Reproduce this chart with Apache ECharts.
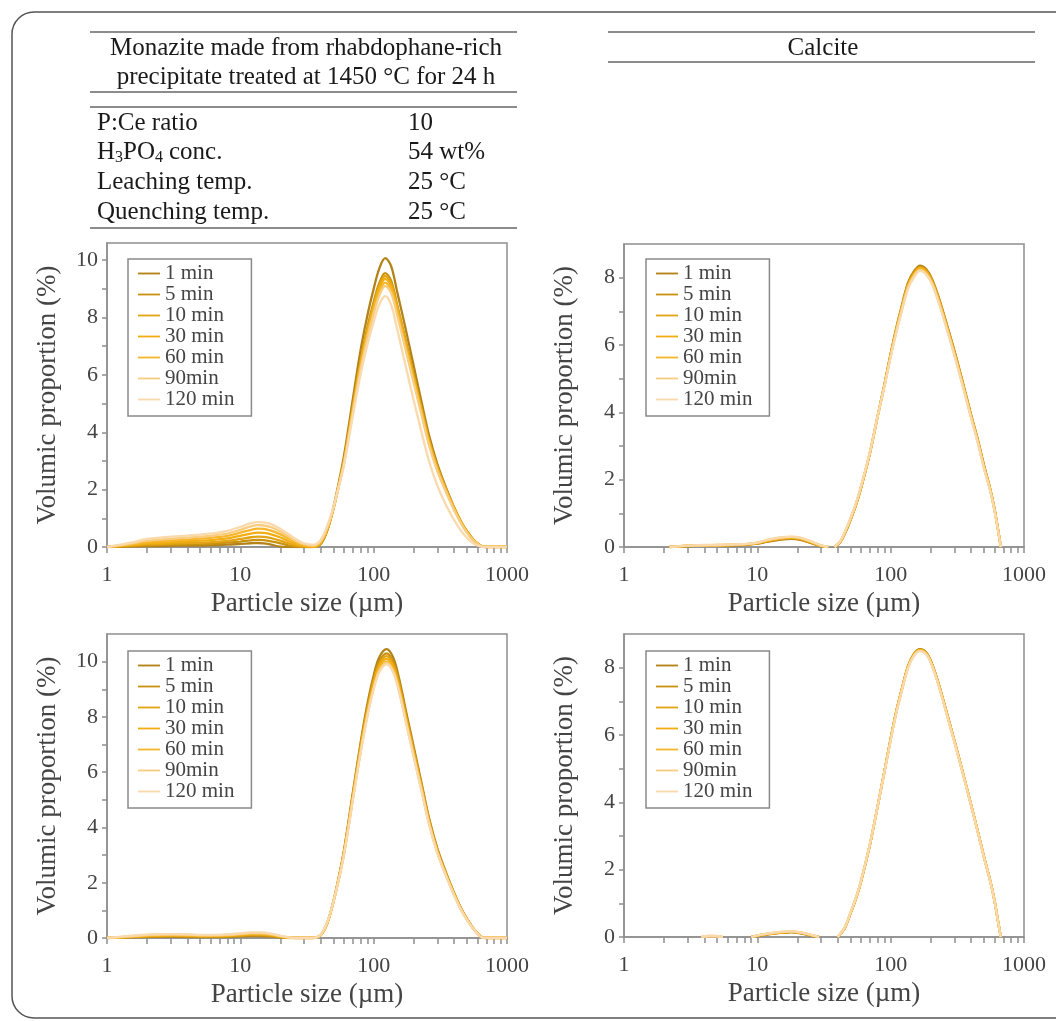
<!DOCTYPE html>
<html><head><meta charset="utf-8">
<script src="https://cdn.jsdelivr.net/npm/echarts@6/dist/echarts.min.js"></script>
<style>html,body{margin:0;padding:0;background:#fff}#c{width:1056px;height:1021px}</style>
</head><body><div id="c"></div>
<script>
// ---------- legend / series ----------
const seriesNames = ['1 min', '5 min', '10 min', '30 min', '60 min', '90min', '120 min'];
const seriesColors = ['#b3831a', '#c9930f', '#e3a515', '#f2ae12', '#f6b72e', '#f8cd80', '#fad9ac'];

// ---------- tick labels ----------
const xLabelValues = [1, 10, 100, 1000];
const xTickValues = [1,2,3,4,5,6,7,8,9,10,20,30,40,50,60,70,80,90,100,200,300,400,500,600,700,800,900,1000];
const yLabelsMonazite = [0, 2, 4, 6, 8, 10];
const yTicksMonazite = [0,1,2,3,4,5,6,7,8,9,10];
const yLabelsCalcite = [0, 2, 4, 6, 8];
const yTicksCalcite = [0,1,2,3,4,5,6,7,8];

// ---------- top-left: monazite (upper row) ----------
const sizesTL = [1,1.5,2,3,4,5,6,7,8,10,12,13.5,15,17,20,23,26,30,35,40,45,50,55,60,70,80,90,100,110,122,135,150,170,200,230,260,300,350,400,450,500,560,630,680,1000];
const TL_1min  = [0,0.02,0.03,0.04,0.05,0.05,0.06,0.07,0.08,0.11,0.13,0.14,0.13,0.08,0.01,0,0,0,0, 0.1,0.6,1.4,2.3,3.2,5.2,6.9,8.1,9.0,9.7,10.07,9.8,8.9,7.8,6.3,5.0,3.9,2.9,2.05,1.4,0.9,0.55,0.25,0.05,0,0];
const TL_5min  = [0,0.03,0.06,0.08,0.09,0.1,0.11,0.13,0.15,0.19,0.23,0.25,0.24,0.2,0.13,0.06,0.02,0,0, 0.1,0.6,1.35,2.2,3.05,4.95,6.55,7.7,8.55,9.2,9.55,9.3,8.45,7.4,6.0,4.8,3.75,2.8,2.0,1.38,0.9,0.55,0.25,0.05,0,0];
const TL_10min = [0,0.05,0.09,0.12,0.14,0.15,0.17,0.19,0.21,0.28,0.34,0.36,0.35,0.31,0.22,0.13,0.06,0.02,0, 0.12,0.62,1.35,2.2,3.0,4.9,6.5,7.6,8.45,9.1,9.45,9.2,8.4,7.35,5.95,4.75,3.72,2.78,2.0,1.38,0.9,0.55,0.25,0.05,0,0];
const TL_30min = [0,0.07,0.13,0.17,0.2,0.22,0.24,0.27,0.3,0.39,0.47,0.5,0.49,0.44,0.33,0.21,0.11,0.04,0.01, 0.15,0.65,1.35,2.2,3.0,4.85,6.4,7.5,8.35,9.0,9.35,9.1,8.3,7.25,5.88,4.7,3.68,2.75,1.97,1.36,0.88,0.53,0.24,0.05,0,0];
const TL_60min = [0,0.09,0.17,0.23,0.26,0.29,0.32,0.35,0.39,0.5,0.6,0.64,0.63,0.57,0.44,0.3,0.17,0.07,0.03, 0.18,0.68,1.35,2.15,2.95,4.8,6.3,7.4,8.25,8.88,9.22,8.98,8.2,7.15,5.8,4.62,3.6,2.7,1.93,1.33,0.86,0.52,0.23,0.05,0,0];
const TL_90min = [0,0.12,0.22,0.29,0.33,0.36,0.39,0.43,0.47,0.6,0.72,0.76,0.75,0.69,0.54,0.37,0.22,0.1,0.05, 0.2,0.7,1.38,2.15,2.92,4.72,6.22,7.3,8.13,8.76,9.1,8.86,8.08,7.05,5.7,4.55,3.55,2.65,1.9,1.3,0.84,0.5,0.22,0.04,0,0];
const TL_120min= [0,0.15,0.28,0.36,0.40,0.43,0.47,0.51,0.56,0.70,0.83,0.87,0.86,0.80,0.63,0.45,0.28,0.13,0.08, 0.25,0.75,1.4,2.15,2.88,4.6,6.05,7.08,7.85,8.45,8.75,8.45,7.6,6.5,5.1,3.95,3.0,2.15,1.45,0.95,0.58,0.32,0.12,0.02,0,0];

// ---------- top-right: calcite (upper row) ----------
const sizesTR = [2.2,3,4,5,6,8,10,12,15,18,21,25,30,34,36,38,42,46,50,55,60,70,80,90,100,110,120,135,150,166,185,205,230,260,300,350,400,450,500,560,600,640,670];
const TR_1min  = [0,0.03,0.04,0.04,0.05,0.06,0.1,0.16,0.22,0.24,0.21,0.12,0.02,0,null, 0,0.15,0.45,0.8,1.25,1.75,2.8,3.9,4.85,5.75,6.5,7.1,7.85,8.2,8.36,8.25,7.95,7.4,6.7,5.85,4.85,3.95,3.2,2.45,1.7,1.15,0.5,0];
const TR_5min  = [0,0.03,0.04,0.05,0.05,0.07,0.11,0.17,0.24,0.26,0.23,0.13,0.03,0,null, 0,0.16,0.46,0.81,1.26,1.76,2.8,3.9,4.84,5.73,6.47,7.07,7.82,8.17,8.33,8.22,7.92,7.37,6.67,5.82,4.82,3.93,3.18,2.43,1.69,1.14,0.5,0];
const TR_10min = [0,0.03,0.05,0.05,0.06,0.07,0.11,0.18,0.25,0.27,0.24,0.14,0.03,0,null, 0,0.16,0.47,0.82,1.27,1.77,2.81,3.9,4.83,5.72,6.45,7.05,7.79,8.14,8.3,8.19,7.89,7.34,6.64,5.79,4.8,3.91,3.16,2.41,1.68,1.13,0.49,0];
const TR_30min = [0,0.04,0.05,0.05,0.06,0.08,0.12,0.19,0.26,0.28,0.25,0.15,0.04,0,null, 0,0.17,0.48,0.83,1.28,1.78,2.82,3.9,4.82,5.7,6.43,7.02,7.76,8.11,8.28,8.17,7.87,7.32,6.62,5.77,4.78,3.9,3.15,2.4,1.67,1.12,0.49,0];
const TR_60min = [0,0.04,0.05,0.06,0.06,0.08,0.12,0.2,0.27,0.29,0.26,0.16,0.04,0,null, 0,0.17,0.49,0.84,1.29,1.79,2.82,3.9,4.81,5.68,6.4,7.0,7.73,8.08,8.25,8.14,7.84,7.29,6.6,5.75,4.76,3.88,3.13,2.38,1.66,1.11,0.48,0];
const TR_90min = [0,0.04,0.05,0.06,0.07,0.08,0.13,0.21,0.28,0.3,0.27,0.17,0.05,0,null, 0,0.18,0.5,0.85,1.3,1.8,2.83,3.9,4.8,5.66,6.38,6.97,7.7,8.05,8.22,8.11,7.81,7.26,6.57,5.72,4.74,3.86,3.11,2.36,1.65,1.1,0.48,0];
const TR_120min= [0,0.04,0.06,0.06,0.07,0.09,0.13,0.22,0.29,0.31,0.28,0.18,0.05,0,null, 0,0.18,0.51,0.86,1.31,1.81,2.84,3.9,4.79,5.64,6.35,6.94,7.67,8.02,8.2,8.09,7.79,7.24,6.55,5.7,4.72,3.84,3.1,2.35,1.64,1.09,0.47,0];

// ---------- bottom-left: monazite (lower row) ----------
const sizesBL = [1,1.3,1.7,2.2,3,4,5,6,8,10,12,14,17,20,23,26,30,35,40,45,50,55,60,70,80,90,100,110,125,140,155,175,200,230,260,300,350,400,450,500,560,630,680,1000];
const BL_1min  = [0,0.01,0.03,0.04,0.05,0.04,0.03,0.03,0.04,0.06,0.07,0.07,0.05,0.02,0,0,0,0, 0.1,0.55,1.35,2.25,3.2,5.3,7.1,8.5,9.5,10.15,10.45,10.15,9.4,8.2,6.9,5.55,4.35,3.25,2.35,1.65,1.1,0.7,0.35,0.07,0,0];
const BL_5min  = [0,0.02,0.04,0.06,0.07,0.06,0.05,0.05,0.06,0.08,0.1,0.1,0.07,0.03,0.01,0,0,0, 0.1,0.55,1.33,2.22,3.15,5.23,7.0,8.38,9.37,10.0,10.3,10.0,9.27,8.08,6.8,5.47,4.29,3.2,2.32,1.63,1.08,0.69,0.34,0.07,0,0];
const BL_10min = [0,0.02,0.05,0.07,0.08,0.07,0.06,0.06,0.07,0.1,0.12,0.12,0.09,0.04,0.01,0,0,0, 0.1,0.56,1.33,2.2,3.12,5.17,6.93,8.3,9.27,9.9,10.2,9.9,9.17,8.0,6.73,5.42,4.25,3.17,2.29,1.61,1.07,0.68,0.34,0.07,0,0];
const BL_30min = [0,0.03,0.06,0.09,0.1,0.09,0.08,0.08,0.09,0.12,0.14,0.14,0.11,0.05,0.01,0,0,0, 0.11,0.57,1.33,2.19,3.1,5.12,6.86,8.22,9.18,9.81,10.1,9.81,9.09,7.93,6.67,5.37,4.2,3.14,2.27,1.6,1.06,0.68,0.34,0.07,0,0];
const BL_60min = [0,0.03,0.07,0.1,0.11,0.1,0.09,0.09,0.1,0.13,0.16,0.16,0.12,0.06,0.02,0,0,0, 0.11,0.58,1.33,2.17,3.07,5.07,6.79,8.13,9.09,9.71,10.0,9.71,9.0,7.85,6.6,5.31,4.16,3.11,2.25,1.58,1.05,0.67,0.33,0.06,0,0];
const BL_90min = [0,0.04,0.08,0.12,0.13,0.12,0.1,0.1,0.12,0.15,0.18,0.18,0.14,0.07,0.02,0,0,0, 0.12,0.58,1.33,2.16,3.05,5.05,6.76,8.09,9.04,9.66,9.95,9.66,8.95,7.81,6.57,5.28,4.14,3.09,2.24,1.57,1.05,0.67,0.33,0.06,0,0];
const BL_120min= [0,0.05,0.1,0.13,0.14,0.13,0.11,0.11,0.13,0.17,0.2,0.2,0.16,0.08,0.02,0,0,0, 0.12,0.59,1.34,2.15,3.03,5.02,6.72,8.05,9.0,9.61,9.9,9.61,8.9,7.77,6.53,5.26,4.12,3.08,2.23,1.56,1.04,0.66,0.33,0.06,0,0];

// ---------- bottom-right: calcite (lower row) ----------
const sizesBR = [3.8,4.3,4.8,5.5,7,9,10,12,15,18,21,25,29,35,40,45,50,55,60,70,80,90,100,110,120,135,150,166,185,205,230,260,300,350,400,450,500,560,600,640,670];
const BR_1min  = [null,null,null,null,null, 0,0.03,0.08,0.12,0.14,0.11,0.05,0,null, 0,0.25,0.7,1.15,1.65,2.75,3.9,4.95,5.9,6.7,7.3,8.05,8.42,8.55,8.45,8.1,7.5,6.75,5.85,4.85,3.95,3.15,2.4,1.65,1.1,0.45,0];
const BR_5min  = [null,null,null,null,null, 0,0.03,0.08,0.13,0.15,0.12,0.05,0,null, 0,0.25,0.7,1.15,1.65,2.75,3.9,4.94,5.89,6.69,7.29,8.04,8.41,8.54,8.44,8.09,7.49,6.74,5.84,4.84,3.94,3.14,2.4,1.65,1.1,0.45,0];
const BR_10min = [null,null,null,null,null, 0,0.04,0.09,0.13,0.15,0.12,0.06,0,null, 0,0.26,0.71,1.16,1.66,2.76,3.9,4.94,5.88,6.68,7.28,8.03,8.4,8.53,8.43,8.08,7.48,6.73,5.83,4.84,3.94,3.14,2.39,1.64,1.09,0.45,0];
const BR_30min = [null,null,null,null,null, 0,0.04,0.09,0.14,0.16,0.13,0.06,0,null, 0,0.26,0.71,1.16,1.66,2.76,3.9,4.93,5.87,6.67,7.27,8.02,8.39,8.52,8.42,8.07,7.47,6.72,5.82,4.83,3.93,3.13,2.39,1.64,1.09,0.44,0];
const BR_60min = [0,0.02,0.02,0, null, 0,0.04,0.09,0.14,0.16,0.13,0.06,0,null, 0,0.26,0.72,1.17,1.67,2.77,3.9,4.93,5.86,6.66,7.26,8.01,8.38,8.51,8.41,8.06,7.46,6.71,5.82,4.82,3.93,3.13,2.38,1.63,1.08,0.44,0];
const BR_90min = [0,0.03,0.03,0, null, 0,0.05,0.1,0.15,0.17,0.14,0.07,0,null, 0,0.27,0.72,1.17,1.67,2.77,3.9,4.92,5.85,6.65,7.25,8.0,8.37,8.5,8.4,8.05,7.45,6.7,5.81,4.82,3.92,3.12,2.38,1.63,1.08,0.44,0];
const BR_120min= [0,0.03,0.03,0, null, 0,0.05,0.1,0.15,0.17,0.14,0.07,0,null, 0,0.27,0.73,1.18,1.68,2.78,3.9,4.92,5.84,6.64,7.24,7.99,8.36,8.49,8.39,8.04,7.44,6.69,5.8,4.81,3.92,3.12,2.37,1.63,1.08,0.44,0];

// ---------- build ----------
const FONT = '"Liberation Serif", "Times New Roman", serif';
const AX = '#8e8e8e';
const TXT = '#444';

function pairs(sizes, vals) {
  return sizes.map((s, i) => [s, vals[i] === null ? '-' : vals[i]]);
}

const panels = [
  { sizes: sizesTL, sets: [TL_1min, TL_5min, TL_10min, TL_30min, TL_60min, TL_90min, TL_120min], grid: {left: 107, top: 243, width: 400, height: 304}, yMax: 10.6, yLabels: yLabelsMonazite, yTicks: yTicksMonazite, legend: {left: 128, top: 259} },
  { sizes: sizesTR, sets: [TR_1min, TR_5min, TR_10min, TR_30min, TR_60min, TR_90min, TR_120min], grid: {left: 624, top: 244, width: 400, height: 303}, yMax: 9, yLabels: yLabelsCalcite, yTicks: yTicksCalcite, legend: {left: 646, top: 259} },
  { sizes: sizesBL, sets: [BL_1min, BL_5min, BL_10min, BL_30min, BL_60min, BL_90min, BL_120min], grid: {left: 107, top: 634, width: 400, height: 304}, yMax: 11, yLabels: yLabelsMonazite, yTicks: yTicksMonazite, legend: {left: 128, top: 651} },
  { sizes: sizesBR, sets: [BR_1min, BR_5min, BR_10min, BR_30min, BR_60min, BR_90min, BR_120min], grid: {left: 624, top: 634, width: 400, height: 303}, yMax: 9, yLabels: yLabelsCalcite, yTicks: yTicksCalcite, legend: {left: 646, top: 651} }
];

const grids = [], xAxes = [], yAxes = [], series = [], legends = [];
panels.forEach((p, k) => {
  grids.push(Object.assign({ show: true, borderColor: AX, borderWidth: 1.5, backgroundColor: 'transparent' }, p.grid));
  xAxes.push({
    type: 'log', logBase: 10, gridIndex: k, min: 1, max: 1000,
    axisLine: { show: true, lineStyle: { color: AX, width: 1.5 } },
    axisTick: { show: true, inside: false, length: 6, lineStyle: { color: AX, width: 1.5 }, customValues: xTickValues },
    axisLabel: { customValues: xLabelValues, formatter: v => String(v), margin: 17, fontFamily: FONT, fontSize: 22, color: TXT },
    splitLine: { show: false }, minorTick: { show: false },
    name: 'Particle size (µm)', nameLocation: 'middle', nameGap: 43,
    nameTextStyle: { fontFamily: FONT, fontSize: 27, color: TXT }
  });
  yAxes.push({
    type: 'value', gridIndex: k, min: 0, max: p.yMax, interval: 2,
    axisLine: { show: true, lineStyle: { color: AX, width: 1.5 } },
    axisTick: { show: true, inside: false, length: 5, lineStyle: { color: AX, width: 1.5 }, customValues: p.yTicks },
    axisLabel: { customValues: p.yLabels, margin: 9, fontFamily: FONT, fontSize: 22, color: TXT },
    splitLine: { show: false },
    name: 'Volumic proportion (%)', nameLocation: 'middle', nameGap: 46,
    nameTextStyle: { fontFamily: FONT, fontSize: 27, color: TXT }
  });
  p.sets.forEach((vals, j) => {
    series.push({
      type: 'line', name: seriesNames[j], xAxisIndex: k, yAxisIndex: k,
      data: pairs(p.sizes, vals), smooth: 0.35, symbol: 'none', showSymbol: false,
      connectNulls: false, color: seriesColors[j],
      lineStyle: { width: 2.3, color: seriesColors[j] }, z: 2 + j
    });
  });
  legends.push({
    data: seriesNames.map((n, j) => ({ name: n, icon: 'path://M0,0H24V2H0Z', itemStyle: { color: seriesColors[j] } })),
    orient: 'vertical', left: p.legend.left, top: p.legend.top,
    itemWidth: 22, itemHeight: 2.2, itemGap: 0, selectedMode: false,
    padding: [4, 17, 6, 10], borderColor: '#8a8a8a', borderWidth: 1.5, backgroundColor: '#fff',
    textStyle: { fontFamily: FONT, fontSize: 21, lineHeight: 20.7, color: TXT }
  });
});

const T = '#1a1a1a', LC = '#666';
function hline(x1, x2, y) { return { type: 'line', shape: { x1, y1: y, x2, y2: y }, style: { stroke: LC, lineWidth: 1.5 } }; }
function txt(x, y, s, opts) {
  const o = opts || {};
  const size = o.size || 25;
  return { type: 'text', x, y, style: { text: s, font: size + 'px "Liberation Serif", serif', fill: T, verticalAlign: 'middle', align: o.align || 'left' } };
}
const graphics = [
  { type: 'rect', shape: { x: 12, y: 12, width: 1080, height: 1006, r: 22 }, style: { fill: 'none', stroke: '#555', lineWidth: 1.5 } },
  hline(90, 517, 32), hline(90, 517, 92), hline(90, 517, 107), hline(90, 517, 228),
  txt(306, 48, 'Monazite made from rhabdophane-rich', { align: 'center' }),
  txt(306, 77, 'precipitate treated at 1450 °C for 24 h', { align: 'center' }),
  txt(97, 123, 'P:Ce ratio'),
  txt(97, 152, 'H'), txt(115, 158, '3', { size: 16 }), txt(123, 152, 'PO'), txt(155, 158, '4', { size: 16 }), txt(169, 152, 'conc.'),
  txt(97, 182, 'Leaching temp.'),
  txt(97, 212, 'Quenching temp.'),
  txt(408, 123, '10'), txt(408, 152, '54 wt%'), txt(408, 182, '25 °C'), txt(408, 212, '25 °C'),
  hline(608, 1035, 32), hline(608, 1035, 62),
  txt(823, 48, 'Calcite', { align: 'center' })
];

const chart = echarts.init(document.getElementById('c'), null, { renderer: 'canvas' });
chart.setOption({
  animation: false,
  backgroundColor: '#fff',
  grid: grids, xAxis: xAxes, yAxis: yAxes, series: series, legend: legends,
  graphic: graphics
});
</script></body></html>
